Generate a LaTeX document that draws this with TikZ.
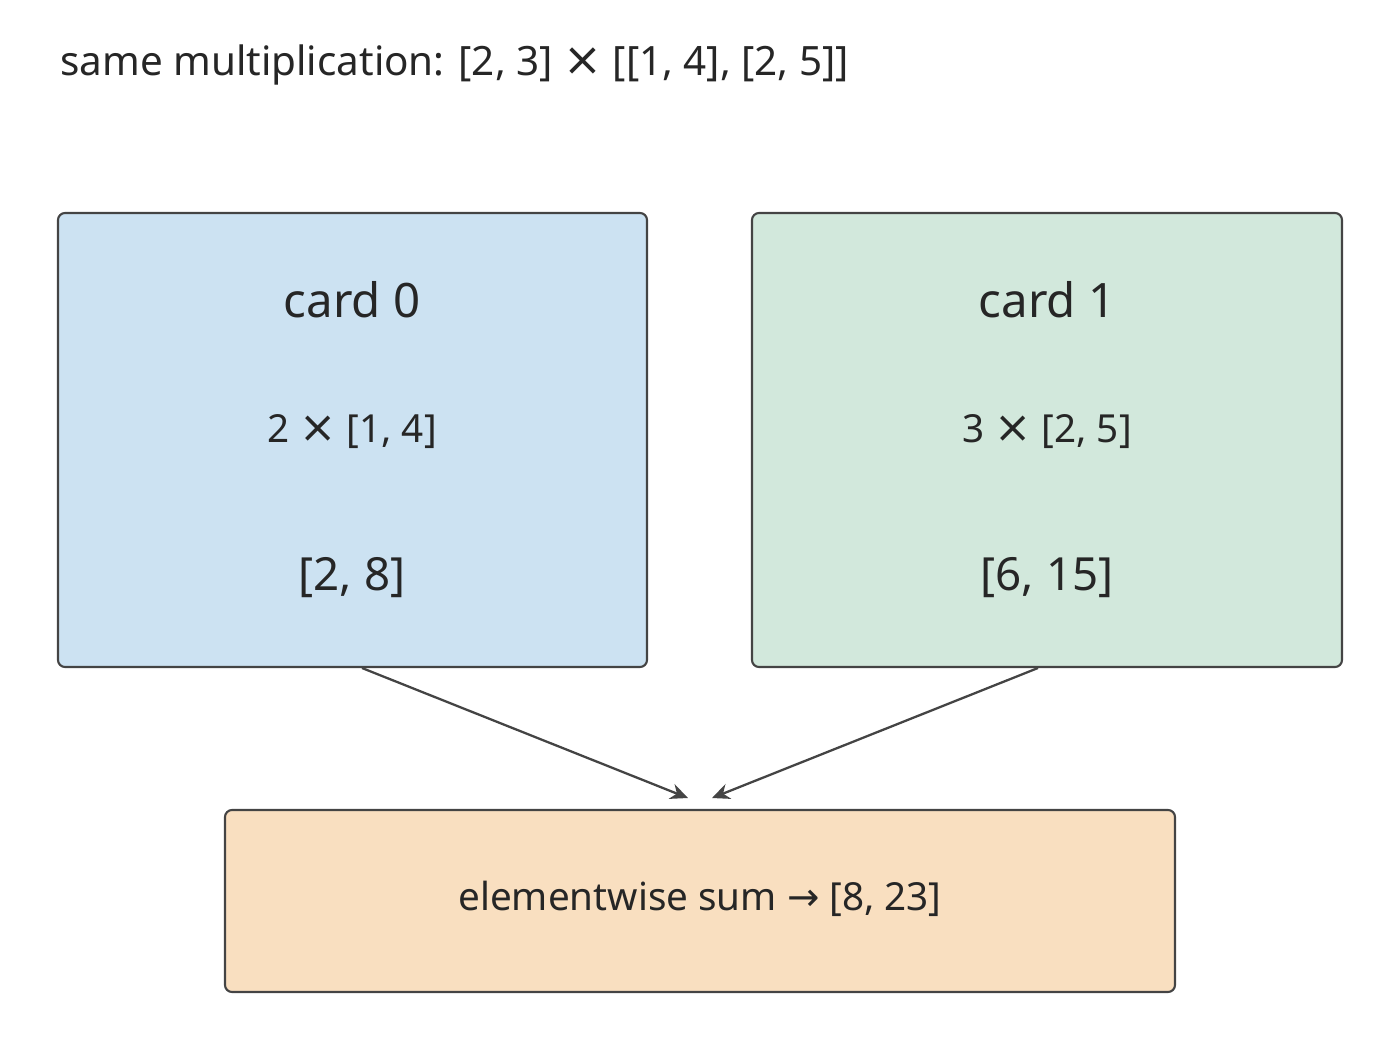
\documentclass[tikz,border=0pt]{standalone}
\usepackage{fontspec}
\setmainfont{Noto Sans}
\newfontfamily\symfont{DejaVu Sans}
\usetikzlibrary{arrows.meta}
\definecolor{cardblue}{HTML}{CCE2F2}
\definecolor{cardgreen}{HTML}{D2E8DC}
\definecolor{sumorange}{HTML}{F9DFC0}
\definecolor{edge}{HTML}{444444}
\newcommand{\bigtimes}{{\symfont\scalebox{1.15}{×}}}
\newcommand{\rarrow}{{\symfont →}}
\tikzset{
  box/.style={draw=edge,line width=1.2pt,rounded corners=4pt,inner sep=0pt},
  txt/.style={text=black!85,inner sep=0pt},
  link/.style={draw=edge,line width=1.3pt,-{Stealth[length=10pt,width=9pt]}}
}
\begin{document}
\begin{tikzpicture}[x=0.02cm,y=-0.02cm]
\useasboundingbox (0,0) rectangle (1400,1059);
\node[txt,anchor=west,font=\fontsize{23}{27}\selectfont] (title) at (60,65) {same multiplication: [2, 3] \bigtimes{} [[1, 4], [2, 5]]};

\draw[box,fill=cardblue] (58,213) rectangle (647,667);
\node[txt,font=\fontsize{27}{32}\selectfont] (c0) at (352,300) {card 0};
\node[txt,font=\fontsize{22}{26}\selectfont] (c0mul) at (352,432) {2 \bigtimes{} [1, 4]};
\node[txt,font=\fontsize{26}{30}\selectfont] (c0res) at (352,578) {[2, 8]};

\draw[box,fill=cardgreen] (752,213) rectangle (1342,667);
\node[txt,font=\fontsize{27}{32}\selectfont] (c1) at (1047,300) {card 1};
\node[txt,font=\fontsize{22}{26}\selectfont] (c1mul) at (1047,432) {3 \bigtimes{} [2, 5]};
\node[txt,font=\fontsize{26}{30}\selectfont] (c1res) at (1047,578) {[6, 15]};

\draw[box,fill=sumorange] (225,810) rectangle (1175,992);
\node[txt,font=\fontsize{22}{26}\selectfont] (sum) at (700,899) {elementwise sum \rarrow{} [8, 23]};

\coordinate (out0) at (362,668);
\coordinate (out1) at (1038,668);
\coordinate (in0) at (688,798);
\coordinate (in1) at (712,798);
\draw[link] (out0) -- (in0);
\draw[link] (out1) -- (in1);
\end{tikzpicture}
\end{document}
